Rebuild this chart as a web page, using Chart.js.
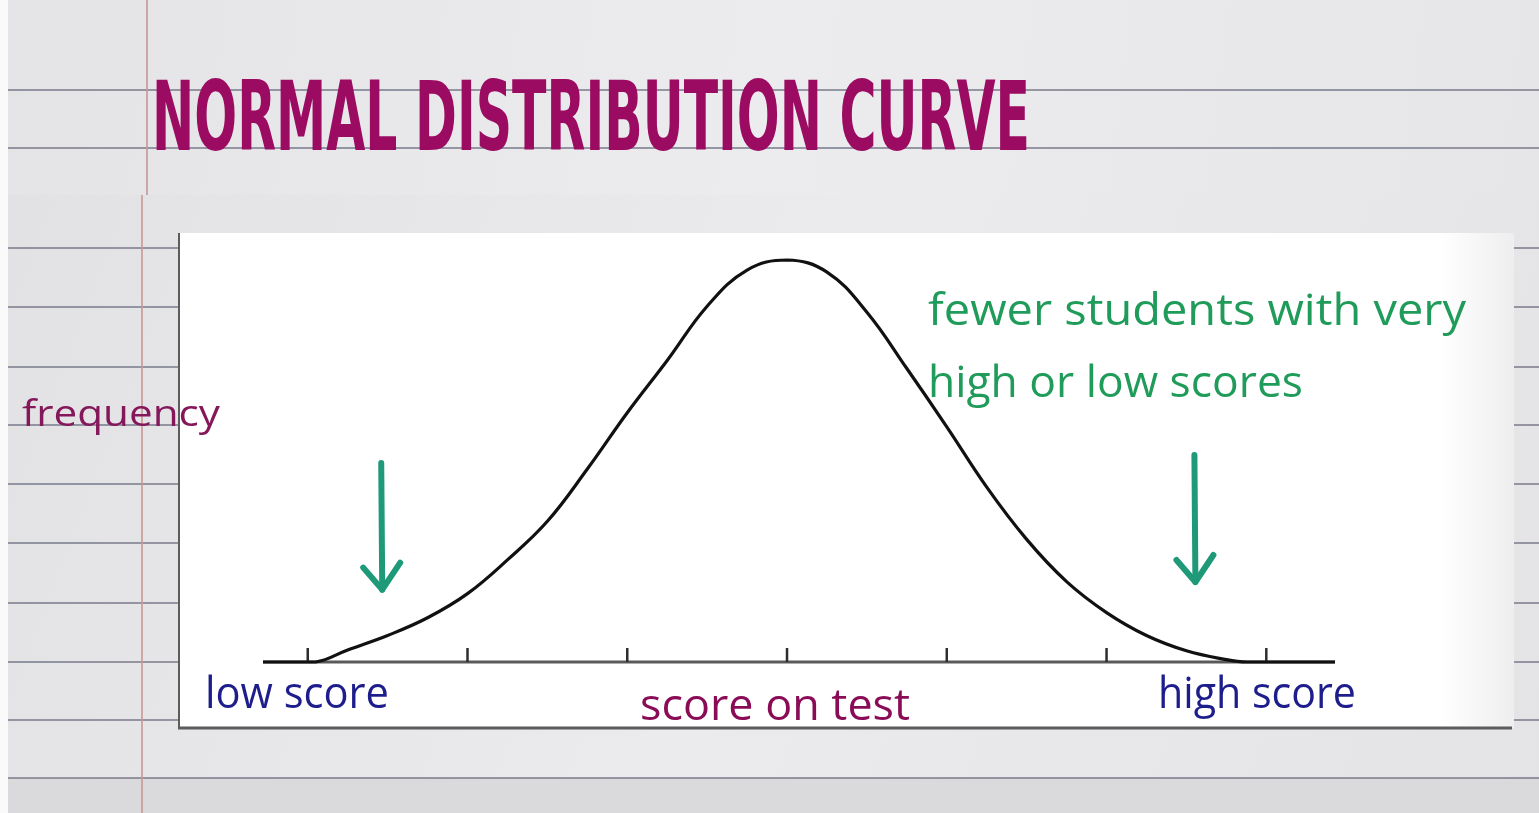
<!DOCTYPE html>
<html>
<head>
<meta charset="utf-8">
<title>Normal distribution curve</title>
<script src="https://cdn.jsdelivr.net/npm/chart.js@4.4.1/dist/chart.umd.min.js"></script>
<style>
  html,body{margin:0;padding:0;width:1539px;height:813px;overflow:hidden;background:#e7e7e9;}
  #c{position:absolute;left:0;top:0;}
  .lbl{position:absolute;white-space:nowrap;font-family:"Open Sans",sans-serif;line-height:1;transform-origin:0 0;}
  .title{font-family:"DejaVu Sans Condensed","DejaVu Sans",sans-serif;font-weight:bold;color:#9c0b62;}
</style>
</head>
<body>
<canvas id="c" width="1539" height="813"></canvas>
<div class="lbl title" data-w="878" data-base="150" data-size="96" data-asc="0.846" style="left:152px">NORMAL DISTRIBUTION CURVE</div>
<div class="lbl" data-w="198" data-base="427" data-size="36" style="left:22px;color:#84185a">frequency</div>
<div class="lbl" data-w="184" data-base="708" data-size="44" style="left:205px;color:#1d1d8c">low score</div>
<div class="lbl" data-w="270" data-base="720" data-size="44" style="left:640px;color:#8a0c56">score on test</div>
<div class="lbl" data-w="198" data-base="708" data-size="44" style="left:1158px;color:#1d1d8c">high score</div>
<div class="lbl" data-w="538" data-base="325" data-size="44" style="left:928px;color:#1f9b5a">fewer students with very</div>
<div class="lbl" data-w="375" data-base="397" data-size="44" style="left:928px;color:#1f9b5a">high or low scores</div>
<script>
// curve: score in std units, frequency as % of the peak
const scoreZ = [-3.28, -2.95, -2.75, -2.5, -2.25, -2.0, -1.75, -1.5, -1.25, -1.0, -0.75, -0.5, -0.25, 0,
  0.25, 0.5, 0.75, 1.0, 1.25, 1.5, 1.75, 2.0, 2.25, 2.5, 2.75, 2.88, 3.43];
const frequency = [0, 0, 3.0, 6.6, 11.0, 17.0, 25.4, 35.0, 48.0, 62.0, 75.0, 88.5, 97.5, 100,
  97.0, 87.0, 73.0, 58.5, 43.5, 30.5, 20.0, 12.3, 6.6, 2.8, 0.6, 0, 0];
const tickValues = [-3, -2, -1, 0, 1, 2, 3];
// green arrows: x position, top and tip in frequency units
const arrowX = [-2.54, 2.55];
const arrowTop = [49.5, 51.5];
const arrowTip = [18.0, 19.9];

const paper = {
  id: 'paper',
  beforeDraw(chart){
    const ctx = chart.ctx, W = chart.width, H = chart.height;
    ctx.save();
    ctx.fillStyle = '#fafafa'; ctx.fillRect(0,0,W,H);
    // top sheet
    let g = ctx.createLinearGradient(0,0,W,195);
    g.addColorStop(0,'#e4e4e6'); g.addColorStop(0.5,'#ececee'); g.addColorStop(1,'#e6e6e8');
    ctx.fillStyle = g; ctx.fillRect(8,0,W-8,195);
    // lower sheet
    g = ctx.createLinearGradient(0,195,W,778);
    g.addColorStop(0,'#e2e2e4'); g.addColorStop(0.5,'#ebebed'); g.addColorStop(1,'#e4e4e6');
    ctx.fillStyle = g; ctx.fillRect(8,195,W-8,583);
    ctx.fillStyle = '#dadadc'; ctx.fillRect(8,778,W-8,H-778);
    ctx.strokeStyle = 'rgba(120,122,138,0.75)'; ctx.lineWidth = 2;
    [90,148].forEach(y=>{ ctx.beginPath(); ctx.moveTo(8,y); ctx.lineTo(W,y); ctx.stroke(); });
    [248,307,367,425,484,543,603,662,720,778].forEach(y=>{ ctx.beginPath(); ctx.moveTo(8,y); ctx.lineTo(W,y); ctx.stroke(); });
    ctx.strokeStyle = 'rgba(200,150,150,0.8)';
    ctx.beginPath(); ctx.moveTo(147,0); ctx.lineTo(147,195); ctx.stroke();
    ctx.beginPath(); ctx.moveTo(142,195); ctx.lineTo(142,H); ctx.stroke();
    // white board
    g = ctx.createLinearGradient(1440,0,1514,0);
    g.addColorStop(0,'#ffffff'); g.addColorStop(1,'#eeeeef');
    ctx.fillStyle = '#ffffff'; ctx.fillRect(178,233,1262,495);
    ctx.fillStyle = g; ctx.fillRect(1440,233,74,495);
    ctx.strokeStyle = '#5c5c5c'; ctx.lineWidth = 2;
    ctx.beginPath(); ctx.moveTo(179,233); ctx.lineTo(179,729); ctx.stroke();
    ctx.lineWidth = 3;
    ctx.beginPath(); ctx.moveTo(178,728); ctx.lineTo(1512,728); ctx.stroke();
    ctx.restore();
  },
  beforeDatasetsDraw(chart){
    const ctx = chart.ctx, xs = chart.scales.x, ys = chart.scales.y;
    const y0 = ys.getPixelForValue(0);
    ctx.save();
    ctx.strokeStyle = '#5a5a5a'; ctx.lineWidth = 3;
    ctx.beginPath(); ctx.moveTo(xs.getPixelForValue(xs.min), y0); ctx.lineTo(xs.getPixelForValue(xs.max), y0); ctx.stroke();
    ctx.strokeStyle = '#2e2e2e'; ctx.lineWidth = 2.5;
    tickValues.forEach(v=>{
      const px = xs.getPixelForValue(v);
      ctx.beginPath(); ctx.moveTo(px, y0); ctx.lineTo(px, y0-14); ctx.stroke();
    });
    // arrows
    ctx.strokeStyle = '#1f9a78'; ctx.lineWidth = 6; ctx.lineCap = 'round'; ctx.lineJoin = 'round';
    arrowX.forEach((v,i)=>{
      const px = xs.getPixelForValue(v), top = ys.getPixelForValue(arrowTop[i]), tip = ys.getPixelForValue(arrowTip[i]);
      ctx.beginPath(); ctx.moveTo(px, top); ctx.lineTo(px+1, tip); ctx.stroke();
      ctx.beginPath(); ctx.moveTo(px-18, tip-22); ctx.lineTo(px+1, tip); ctx.lineTo(px+19, tip-27); ctx.stroke();
    });
    ctx.restore();
  }
};

new Chart(document.getElementById('c'), {
  type: 'line',
  data: {
    datasets: [{
      data: scoreZ.map((x,i)=>({x, y: frequency[i]})),
      borderColor: '#111111', borderWidth: 3.2, pointRadius: 0,
      tension: 0.4, fill: false, clip: 10
    }]
  },
  options: {
    responsive: false, animation: false,
    layout: { padding: { left: 263, right: 204, top: 260, bottom: 151 } },
    plugins: { legend: { display: false }, tooltip: { enabled: false } },
    scales: {
      x: { type: 'linear', min: -3.28, max: 3.43, display: false },
      y: { min: 0, max: 100, display: false }
    }
  },
  plugins: [paper]
});

function fitLabels(){
  document.querySelectorAll('.lbl').forEach(el=>{
    const size = +el.dataset.size, asc = +(el.dataset.asc || 0.888);
    el.style.fontSize = size + 'px';
    el.style.top = (+el.dataset.base - asc*size) + 'px';
    el.style.transform = 'none';
    const w = el.getBoundingClientRect().width;
    el.style.transform = 'scaleX(' + (+el.dataset.w / w) + ')';
  });
}
fitLabels();
if (document.fonts) document.fonts.ready.then(fitLabels);
</script>
</body>
</html>
